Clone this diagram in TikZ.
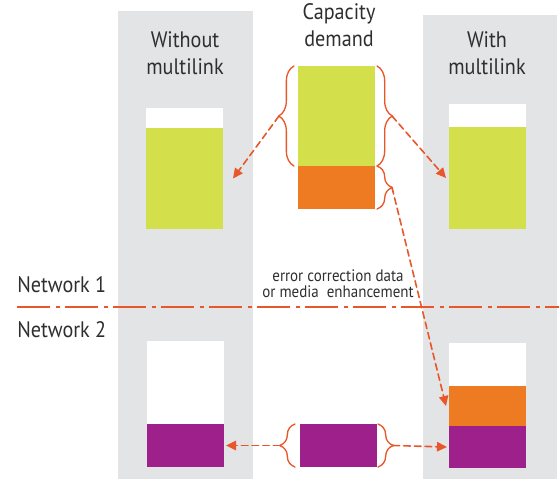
\documentclass[tikz,border=0pt]{standalone}
\usepackage{fontspec}
\setmainfont{PT Sans}
\newfontfamily\narrowsans{PT Sans}[FakeStretch=0.9]
\usetikzlibrary{positioning,calc,arrows.meta,decorations.pathreplacing}
\definecolor{panelgray}{HTML}{E3E4E6}
\definecolor{demandgreen}{HTML}{D4DF4C}
\definecolor{extraorange}{HTML}{EE7A21}
\definecolor{basepurple}{HTML}{9E208A}
\definecolor{linkred}{HTML}{E8562A}
\definecolor{labelgray}{HTML}{2E2E2E}

\begin{document}
\begin{tikzpicture}[x=0.75pt,y=-0.75pt,line cap=round,line join=round,
  bar/.style={inner sep=0pt,outer sep=0pt,minimum width=57.75pt,anchor=north west},
  curly/.style={draw=linkred,line width=1pt,decorate,decoration={brace,amplitude=11.5pt}},
  flow/.style={draw=linkred,line width=1.2pt,dash pattern=on 5pt off 3pt,-{Triangle[length=7.5pt,width=7pt]}},
  heading/.style={font=\narrowsans\fontsize{16.8}{20.25}\selectfont,text=labelgray,align=center,inner sep=0pt}]
  \useasboundingbox (0,0) rectangle (559,479);
  % panels
  \fill[panelgray] (118,11) rectangle (253,479);
  \fill[panelgray] (423,15) rectangle (557,479);
  \node[heading] (woTitle) at (185,53) {Without\\multilink};
  \node[heading] (capTitle) at (339,25) {Capacity\\demand};
  \node[heading] (wTitle) at (487,53) {With\\multilink};
  % network 1 bars
  \node[bar,fill=white,minimum height=15pt] (woFree) at (146,108) {};
  \node[bar,fill=demandgreen,minimum height=75.75pt,below=0pt of woFree] (woGreen) {};
  \node[bar,fill=demandgreen,minimum height=75pt] (capGreen) at (298,66) {};
  \node[bar,fill=extraorange,minimum height=32.25pt,below=0pt of capGreen] (capOrange) {};
  \node[bar,fill=white,minimum height=17.25pt] (wFree) at (449,104) {};
  \node[bar,fill=demandgreen,minimum height=76.5pt,below=0pt of wFree] (wGreen) {};
  % network 2 bars
  \node[bar,fill=white,minimum height=62.25pt] (woFree2) at (147,341) {};
  \node[bar,fill=basepurple,minimum height=32.25pt,below=0pt of woFree2] (woPurple) {};
  \node[bar,fill=basepurple,minimum height=32.25pt] (capPurple) at (300,424) {};
  \node[bar,fill=white,minimum height=32.25pt] (wFree2) at (449,343) {};
  \node[bar,fill=extraorange,minimum height=30pt,below=0pt of wFree2] (wOrange) {};
  \node[bar,fill=basepurple,minimum height=31.5pt,below=0pt of wOrange] (wPurple) {};
  % braces
  \draw[curly] ($(capGreen.south west)+(-4,0)$) -- ($(capGreen.north west)+(-4,0)$);
  \draw[curly] ($(capGreen.north east)+(2,0)$) -- ($(capGreen.south east)+(2,0)$);
  \draw[curly] ($(capOrange.north east)+(2,0)$) -- ($(capOrange.south east)+(2,0)$);
  \draw[curly] ($(capPurple.south west)+(-5,0)$) -- ($(capPurple.north west)+(-5,0)$);
  \draw[curly] ($(capPurple.north east)+(1,0)$) -- ($(capPurple.south east)+(1,0)$);
  \coordinate (demandTipL) at ($(capGreen.west)+(-19,0)$);
  \coordinate (demandTipR) at ($(capGreen.east)+(17,0)$);
  \coordinate (extraTip) at ($(capOrange.east)+(17,0)$);
  \coordinate (baseTipL) at ($(capPurple.west)+(-20,0)$);
  \coordinate (baseTipR) at ($(capPurple.east)+(16,0)$);
  % flows
  \draw[flow] (demandTipL) -- ($(woGreen.east)+(10,0)$);
  \draw[flow] (demandTipR) -- ($(wGreen.west)+(-3,0)$);
  \draw[flow] (extraTip) -- ($(wOrange.west)+(-3,0)$);
  \draw[flow] (baseTipL) -- ($(woPurple.east)+(2,0)$);
  \draw[flow] (baseTipR) -- ($(wPurple.west)+(-2,0)$);
  % network border
  \coordinate (netStart) at (17,307);
  \coordinate (netEnd) at (559,307);
  \draw[linkred,line width=1.1pt,line cap=butt,dash pattern=on 25pt off 4pt on 3pt off 4pt] (netStart) -- (netEnd);
  \node[heading,anchor=west] (netOne) at (17,285) {Network 1};
  \node[heading,anchor=west] (netTwo) at (17,330) {Network 2};
  \node[font=\narrowsans\fontsize{12.5}{12}\selectfont,text=labelgray,align=center,inner sep=0pt] (extraNote) at (338,284) {error correction data\\or media\ \ enhancement};
\end{tikzpicture}
\end{document}
